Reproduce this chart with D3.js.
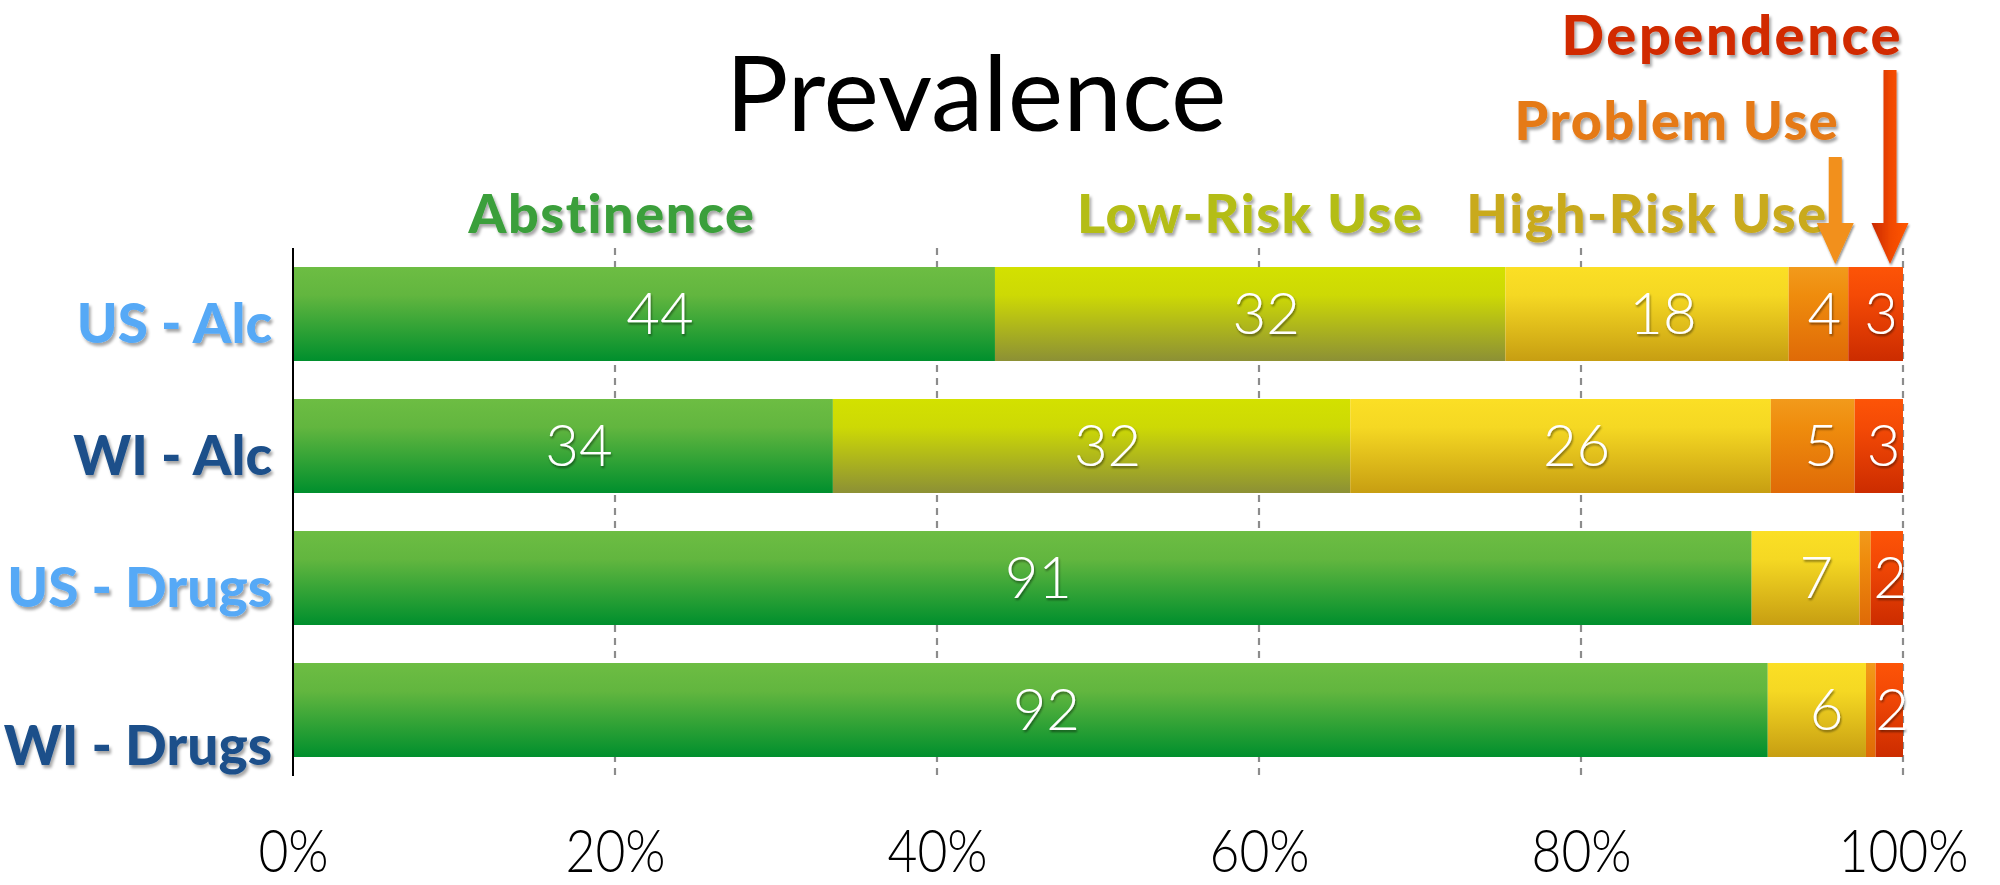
<!doctype html>
<meta charset="UTF-8">
<html>
  <head>
    <script src="https://d3js.org/d3.v7.min.js"></script>
    <style>
      body { margin: 0; background: #fff; }
    </style>
  </head>
  <body>
  </body>
  <script type="text/javascript">

    // data (percent of each row, labels are the rounded values)
    rows = ['US - Alc', 'WI - Alc', 'US - Drugs', 'WI - Drugs']
    series = ['Abstinence', 'Low-Risk Use', 'High-Risk Use', 'Problem Use', 'Dependence']
    abstinence = [43.6, 33.5, 90.6, 91.6]
    lowRisk = [31.7, 32.1, 0, 0]
    highRisk = [17.6, 26.1, 6.7, 6.1]
    problemUse = [3.7, 5.2, 0.7, 0.6]
    dependence = [3.4, 3.0, 2.0, 1.7]
    xTicks = [0, 0.2, 0.4, 0.6, 0.8, 1]

    width = 2000
    height = 885

    // colours: [label, gradient top, gradient mid, gradient bottom]
    colors = {
      'Abstinence':    ['#3a9f3b', '#6dbd43', '#62b63f', '#008f2d'],
      'Low-Risk Use':  ['#b4bd14', '#d3e100', '#cdd905', '#8c9035'],
      'High-Risk Use': ['#c9aa1f', '#fbdf25', '#f5d823', '#c79e12'],
      'Problem Use':   ['#e57a19', '#f29a1b', '#ef8c0d', '#df6a07'],
      'Dependence':    ['#d12c06', '#fd5407', '#f44a06', '#cc2c00']
    }
    rowColors = ['#57a9f6', '#1b4f8a', '#57a9f6', '#1b4f8a']

    table = rows.map((r, i) => ({
      row: r,
      'Abstinence': abstinence[i],
      'Low-Risk Use': lowRisk[i],
      'High-Risk Use': highRisk[i],
      'Problem Use': problemUse[i],
      'Dependence': dependence[i]
    }))

    stacked = d3.stack().keys(series).offset(d3.stackOffsetExpand)(table)

    x = d3.scaleLinear().domain([0, 1]).range([293, 1903])
    y = d3.scaleBand().domain(rows).range([248, 776]).paddingInner(0.288).paddingOuter(0.144)

    svg = d3.select('body').append('svg')
      .attr('width', width)
      .attr('height', height)

    defs = svg.append('defs')

    series.forEach((s, i) => {
      var g = defs.append('linearGradient')
        .attr('id', 'grad' + i)
        .attr('x1', 0).attr('y1', 0).attr('x2', 0).attr('y2', 1)
      g.append('stop').attr('offset', '0%').attr('stop-color', colors[s][1])
      g.append('stop').attr('offset', '30%').attr('stop-color', colors[s][2])
      g.append('stop').attr('offset', '100%').attr('stop-color', colors[s][3])
    })

    depArrow = defs.append('linearGradient').attr('id', 'depArrow')
    depArrow.append('stop').attr('offset', '0%').attr('stop-color', '#c92800')
    depArrow.append('stop').attr('offset', '55%').attr('stop-color', '#f24a06')
    depArrow.append('stop').attr('offset', '100%').attr('stop-color', '#ff5705')

    shadow = defs.append('filter').attr('id', 'shadow')
      .attr('x', '-10%').attr('y', '-20%').attr('width', '130%').attr('height', '150%')
    shadow.append('feDropShadow')
      .attr('dx', 2).attr('dy', 3).attr('stdDeviation', 1.6)
      .attr('flood-color', '#000').attr('flood-opacity', 0.35)

    softShadow = defs.append('filter').attr('id', 'softShadow')
      .attr('x', '-20%').attr('y', '-20%').attr('width', '150%').attr('height', '150%')
    softShadow.append('feDropShadow')
      .attr('dx', 1).attr('dy', 2).attr('stdDeviation', 1.2)
      .attr('flood-color', '#000').attr('flood-opacity', 0.45)

    // dashed grid lines
    svg.selectAll('.grid')
      .data(xTicks.filter(d => d > 0))
      .enter()
      .append('line')
      .attr('class', 'grid')
      .attr('x1', d => x(d)).attr('x2', d => x(d))
      .attr('y1', y.range()[0]).attr('y2', y.range()[1])
      .style('stroke', '#8c8c8c')
      .style('stroke-width', 2.2)
      .style('stroke-dasharray', '7,6')

    // bars
    layers = svg.selectAll('.layer')
      .data(stacked)
      .enter()
      .append('g')
      .attr('class', 'layer')
      .attr('fill', (d, i) => 'url(#grad' + i + ')')

    layers.selectAll('rect')
      .data(d => d)
      .enter()
      .append('rect')
      .attr('x', d => x(d[0]))
      .attr('width', d => x(d[1]) - x(d[0]))
      .attr('y', d => y(d.data.row))
      .attr('height', y.bandwidth())

    // value labels
    layers.each(function(layer) {
      d3.select(this).selectAll('text')
        .data(layer.filter(d => d.data[layer.key] >= 1))
        .enter()
        .append('text')
        .text(d => Math.round(d.data[layer.key]))
        .attr('x', d => (x(d[0]) + x(d[1])) / 2 + Math.min(16, (x(d[1]) - x(d[0])) * 0.1))
        .attr('y', d => y(d.data.row) + y.bandwidth() / 2 + 20)
        .attr('text-anchor', 'middle')
        .style('fill', '#fff')
        .style('font-family', 'Lato')
        .style('font-weight', 300)
        .style('font-size', '58px')
        .attr('filter', 'url(#softShadow)')
    })

    // y axis line
    svg.append('line')
      .attr('x1', x(0)).attr('x2', x(0))
      .attr('y1', y.range()[0]).attr('y2', y.range()[1])
      .style('stroke', '#000')
      .style('stroke-width', 2)

    // row labels
    svg.selectAll('.rowLabel')
      .data(rows)
      .enter()
      .append('text')
      .attr('class', 'rowLabel')
      .text(d => d)
      .attr('x', x(0) - 21)
      .attr('y', (d, i) => y(d) + y.bandwidth() / 2 + (i == rows.length - 1 ? 55 : 29))
      .attr('text-anchor', 'end')
      .style('fill', (d, i) => rowColors[i])
      .style('font-family', 'Lato')
      .style('font-weight', 900)
      .style('font-size', '55px')
      .attr('filter', 'url(#shadow)')

    // x axis labels
    xAxis = d3.axisBottom(x)
      .tickValues(xTicks)
      .tickFormat(d3.format('.0%'))
      .tickSize(0)
      .tickPadding(53)

    axisG = svg.append('g')
      .attr('transform', 'translate(0,' + y.range()[1] + ')')
      .call(xAxis)
    axisG.select('.domain').remove()
    axisG.selectAll('text')
      .style('font-family', 'Lato')
      .style('font-weight', 300)
      .style('font-size', '60px')
      .style('fill', '#000')
      .each(function() {
        var w = this.getComputedTextLength()
        d3.select(this).attr('textLength', w * 0.86).attr('lengthAdjust', 'spacingAndGlyphs')
      })

    // title
    svg.append('text')
      .text('Prevalence')
      .attr('x', 976)
      .attr('y', 131)
      .attr('text-anchor', 'middle')
      .style('font-family', 'Lato')
      .style('font-weight', 400)
      .style('font-size', '105px')
      .style('fill', '#000')

    // series labels, placed over the first row's segments
    first = stacked.map(l => l[0])
    labelStyle = function(sel, s) {
      sel.style('fill', colors[s][0])
        .style('font-family', 'Lato')
        .style('font-weight', 900)
        .style('font-size', '54px')
        .style('letter-spacing', '1.5px')
        .attr('filter', 'url(#shadow)')
    }

    ;[0, 1, 2].forEach(i => {
      var seg = first[i]
      svg.append('text')
        .text(series[i])
        .attr('x', (x(seg[0]) + x(seg[1])) / 2 + (i == 0 ? -32 : 0))
        .attr('y', 233)
        .attr('text-anchor', 'middle')
        .call(labelStyle, series[i])
    })

    // arrows for the two thin segments
    arrowTops = [157, 70]
    ;[3, 4].forEach((i, k) => {
      var seg = first[i]
      var ax = x(seg[1]) - 13
      var tip = y(rows[0]) - 3
      var headTop = tip - 41
      var path = d3.path()
      path.moveTo(ax - 6.5, arrowTops[k])
      path.lineTo(ax + 6.5, arrowTops[k])
      path.lineTo(ax + 6.5, headTop)
      path.lineTo(ax + 18.5, headTop)
      path.lineTo(ax, tip)
      path.lineTo(ax - 18.5, headTop)
      path.lineTo(ax - 6.5, headTop)
      path.closePath()
      svg.append('path')
        .attr('d', path.toString())
        .style('fill', i == 3 ? '#f2901a' : 'url(#depArrow)')
        .attr('filter', 'url(#softShadow)')

      svg.append('text')
        .text(series[i])
        .attr('x', ax + (i == 3 ? 4 : 13))
        .attr('y', i == 3 ? 140 : 55)
        .attr('text-anchor', 'end')
        .call(labelStyle, series[i])
        .style('font-size', i == 3 ? '54px' : '56px')
        .style('letter-spacing', i == 3 ? '1.5px' : '2.5px')
    })

  </script>
</html>
